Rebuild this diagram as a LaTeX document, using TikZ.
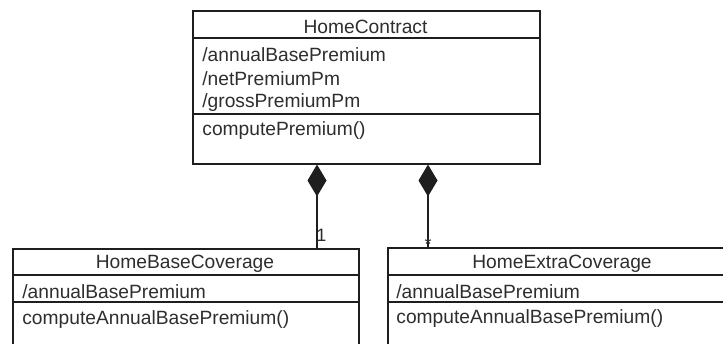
\documentclass[tikz,border=0pt]{standalone}
\usepackage{fontspec}
\setmainfont{Liberation Sans}
\usetikzlibrary{arrows.meta,calc}
\definecolor{ink}{HTML}{1E1E1E}
\definecolor{txt}{HTML}{2E2E2E}
\tikzset{
  classbox/.style={draw=ink, line width=0.75pt, fill=white, inner sep=0pt, anchor=north west},
  sep/.style={draw=ink, line width=0.75pt},
  title/.style={text=txt, font=\fontsize{9.6pt}{11pt}\selectfont, inner sep=0pt, anchor=center},
  member/.style={text=txt, font=\fontsize{9.6pt}{11pt}\selectfont, inner sep=0pt, anchor=west},
  comp/.style={draw=ink, line width=0.75pt, {Diamond[length=16pt,width=9.5pt,fill=ink]}-},
  mult/.style={text=txt, font=\fontsize{9pt}{10pt}\selectfont, inner sep=0pt}
}
\begin{document}
\begin{tikzpicture}[x=0.5pt,y=-0.5pt]
\useasboundingbox (0,0) rectangle (723,343);
\clip (0,0) rectangle (723,343);
\fill[white] (0,0) rectangle (723,343);

% HomeContract
\node[classbox, minimum width=173.5pt, minimum height=76.5pt] (hc) at (192,10) {};
\draw[sep] (192,38) -- (539,38);
\draw[sep] (192,114) -- (539,114);
\node[title] (hct) at (365.5,27) {HomeContract};
\node[member] (hca1) at (202,55) {/annualBasePremium};
\node[member] (hca2) at (202,79) {/netPremiumPm};
\node[member] (hca3) at (202,103) {/grossPremiumPm};
\node[member] (hcm1) at (202,131) {computePremium()};

% HomeBaseCoverage
\node[classbox, minimum width=173pt, minimum height=60pt] (lb) at (12,248) {};
\draw[sep] (12,275) -- (358,275);
\draw[sep] (12,302) -- (358,302);
\node[title] (lbt) at (185,264) {HomeBaseCoverage};
\node[member] (lba1) at (22,292) {/annualBasePremium};
\node[member] (lbm1) at (22,320) {computeAnnualBasePremium()};

% HomeExtraCoverage
\node[classbox, minimum width=175pt, minimum height=60pt] (rb) at (387,247) {};
\draw[sep] (387,275) -- (740,275);
\draw[sep] (387,302) -- (740,302);
\node[title] (rbt) at (562,264) {HomeExtraCoverage};
\node[member] (rba1) at (396,292) {/annualBasePremium};
\node[member] (rbm1) at (396,319) {computeAnnualBasePremium()};

% compositions
\coordinate (c1) at (317,0);
\coordinate (c2) at (428,0);
\draw[comp] (hc.south -| c1) -- (lb.north -| c1);
\draw[comp] (hc.south -| c2) -- (rb.north -| c2);
\node[mult, anchor=base west] (m1) at (316,241) {1};
\node[mult, anchor=base] (m2) at (428,250) {*};
\end{tikzpicture}
\end{document}
